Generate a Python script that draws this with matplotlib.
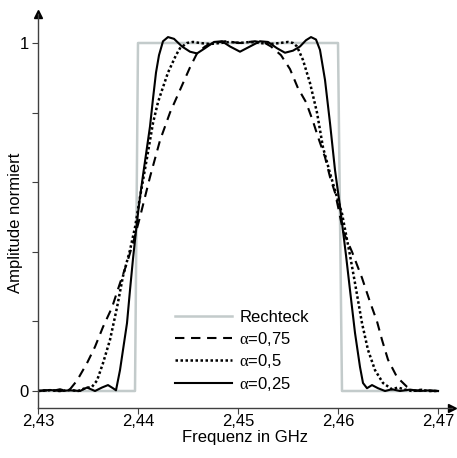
import matplotlib
matplotlib.use("Agg")
import matplotlib.pyplot as plt
import numpy as np

plt.rcParams['font.family'] = ['Liberation Sans', 'DejaVu Sans']
plt.rcParams['mathtext.fontset'] = 'custom'
plt.rcParams['mathtext.rm'] = 'Liberation Serif'
plt.rcParams['mathtext.it'] = 'Liberation Serif'

# rectangle (ideal spectrum)
rect_f = [2.4300, 2.4397, 2.4400, 2.4600, 2.4604, 2.4700]
rect_a = [0, 0, 1, 1, 0, 0]

# alpha = 0.25 (solid)
f_025 = [2.4300, 2.4312, 2.4322, 2.4332, 2.4342, 2.4349, 2.4357, 2.4364, 2.4370, 2.4375,
         2.4378, 2.4382, 2.4385, 2.4389, 2.4392, 2.4395, 2.4398, 2.4401, 2.4405, 2.4409,
         2.4412, 2.4415, 2.4418, 2.4421, 2.4425, 2.4430, 2.4436, 2.4444, 2.4452, 2.4459,
         2.4467, 2.4476, 2.4484, 2.4492, 2.4502, 2.4512, 2.4522, 2.4530, 2.4539, 2.4547,
         2.4555, 2.4562, 2.4568, 2.4573, 2.4578, 2.4582, 2.4587, 2.4592, 2.4597, 2.4602,
         2.4605, 2.4608, 2.4612, 2.4617, 2.4622, 2.4625, 2.4629, 2.4634, 2.4640, 2.4647,
         2.4654, 2.4662, 2.4672, 2.4682, 2.4692, 2.4700]
a_025 = [0.0, 0.003, 0.0, 0.002, 0.0, 0.01, 0.0, 0.01, 0.017, 0.008,
         0.002, 0.06, 0.118, 0.195, 0.29, 0.38, 0.46, 0.535, 0.62, 0.70,
         0.76, 0.84, 0.915, 0.965, 1.005, 1.017, 1.012, 0.99, 0.975, 0.97,
         0.985, 1.003, 1.005, 0.99, 0.975, 0.99, 1.005, 1.003, 0.985, 0.972,
         0.978, 0.99, 1.008, 1.017, 1.01, 0.98, 0.894, 0.77, 0.635, 0.53,
         0.46, 0.39, 0.29, 0.167, 0.069, 0.023, 0.008, 0.017, 0.008, 0.0,
         0.005, 0.0, 0.004, 0.0, 0.002, 0.0]

# alpha = 0.5 (dotted)
f_05 = [2.4300, 2.4312, 2.4322, 2.4332, 2.4340, 2.4347, 2.4354, 2.4359, 2.4365, 2.4372,
        2.4379, 2.4385, 2.4392, 2.4397, 2.4402, 2.4409, 2.4415, 2.4420, 2.4425, 2.4430,
        2.4434, 2.4438, 2.4442, 2.4449, 2.4455, 2.4462, 2.4472, 2.4482, 2.4492, 2.4502,
        2.4512, 2.4522, 2.4532, 2.4542, 2.4550, 2.4555, 2.4559, 2.4565, 2.4572, 2.4579,
        2.4585, 2.4592, 2.4599, 2.4604, 2.4608, 2.4612, 2.4617, 2.4624, 2.4630, 2.4637,
        2.4645, 2.4654, 2.4660, 2.4667, 2.4674, 2.4682, 2.4692, 2.4700]
a_05 = [0.0, 0.002, 0.0, 0.003, 0.0, 0.008, 0.012, 0.03, 0.08, 0.147,
        0.24, 0.33, 0.405, 0.47, 0.557, 0.67, 0.77, 0.83, 0.873, 0.915,
        0.94, 0.965, 0.985, 1.0, 1.003, 1.0, 0.997, 1.0, 1.003, 1.0,
        1.003, 1.0, 0.997, 1.0, 1.003, 1.0, 0.99, 0.951, 0.885, 0.8,
        0.70, 0.626, 0.557, 0.51, 0.45, 0.39, 0.31, 0.195, 0.118, 0.06,
        0.023, 0.005, 0.01, 0.004, 0.0, 0.003, 0.0, 0.0]

# alpha = 0.75 (dashed)
f_075 = [2.4300, 2.4307, 2.4314, 2.4322, 2.4328, 2.4332, 2.4339, 2.4349, 2.4357, 2.4365,
         2.4374, 2.4382, 2.4389, 2.4395, 2.4402, 2.4412, 2.4422, 2.4432, 2.4442, 2.4452,
         2.4459, 2.4467, 2.4475, 2.4487, 2.4502, 2.4517, 2.4527, 2.4533, 2.4543, 2.4552,
         2.4560, 2.4568, 2.4575, 2.4580, 2.4587, 2.4592, 2.4597, 2.4600, 2.4605, 2.4614,
         2.4624, 2.4632, 2.4639, 2.4644, 2.4650, 2.4659, 2.4669, 2.4677, 2.4684, 2.4692,
         2.4700]
a_075 = [0.0, 0.002, 0.0, 0.005, 0.0, 0.005, 0.03, 0.08, 0.127, 0.184,
         0.24, 0.31, 0.368, 0.425, 0.5, 0.615, 0.72, 0.8, 0.865, 0.93,
         0.97, 0.99, 1.0, 1.005, 1.0, 1.005, 1.0, 0.99, 0.965, 0.925,
         0.87, 0.83, 0.775, 0.73, 0.672, 0.615, 0.57, 0.53, 0.46, 0.40,
         0.325, 0.256, 0.2, 0.147, 0.09, 0.04, 0.012, 0.0, 0.004, 0.0,
         0.0]

xticks = [2.43, 2.44, 2.45, 2.46, 2.47]
yticks = [0, 0.2, 0.4, 0.6, 0.8, 1.0]
ytick_labels = ['0', '', '', '', '', '1']

fig = plt.figure(figsize=(4.57, 4.58), dpi=100)
ax = fig.add_axes([38 / 457, 50 / 458, 414 / 457, 394 / 458])

ax.plot(rect_f, rect_a, color='#c3cbcb', lw=1.8, label='Rechteck')
ax.plot(f_075, a_075, color='black', lw=1.5, dashes=(4.5, 3.2), label=r'$\alpha$=0,75')
ax.plot(f_05, a_05, color='black', lw=1.8, linestyle=(0, (1, 1)), label=r'$\alpha$=0,5')
ax.plot(f_025, a_025, color='black', lw=1.5, label=r'$\alpha$=0,25')

ax.set_xlim(2.43, 2.4714)
ax.set_ylim(-17 / 348, 377 / 348)

for s in ['top', 'right']:
    ax.spines[s].set_visible(False)
for s in ['left', 'bottom']:
    ax.spines[s].set_color('#404040')
    ax.spines[s].set_linewidth(1.0)

ax.plot(1, 0, '>', color='black', markersize=6, transform=ax.transAxes, clip_on=False)
ax.plot(0, 1, '^', color='black', markersize=6, transform=ax.transAxes, clip_on=False)

ax.set_xticks(xticks)
ax.set_xticklabels([('%.2f' % t).replace('.', ',') for t in xticks])
ax.set_yticks(yticks)
ax.set_yticklabels(ytick_labels)
ax.tick_params(direction='out', length=4, width=0.8, color='#404040',
               labelsize=12)
ax.tick_params(axis='x', pad=0.5)
ax.tick_params(axis='y', pad=2.5)

ax.set_xlabel('Frequenz in GHz', fontsize=12)
ax.xaxis.set_label_coords(0.5, -0.057)
ax.set_ylabel('Amplitude normiert', fontsize=12)
ax.yaxis.set_label_coords(-0.036, 0.47)

ax.legend(loc='center left', bbox_to_anchor=(0.331, 0.1434), frameon=False,
          fontsize=12, handlelength=3.4, handletextpad=0.45, labelspacing=0.27,
          borderpad=0, borderaxespad=0)

fig.savefig('out.png', dpi=100)
